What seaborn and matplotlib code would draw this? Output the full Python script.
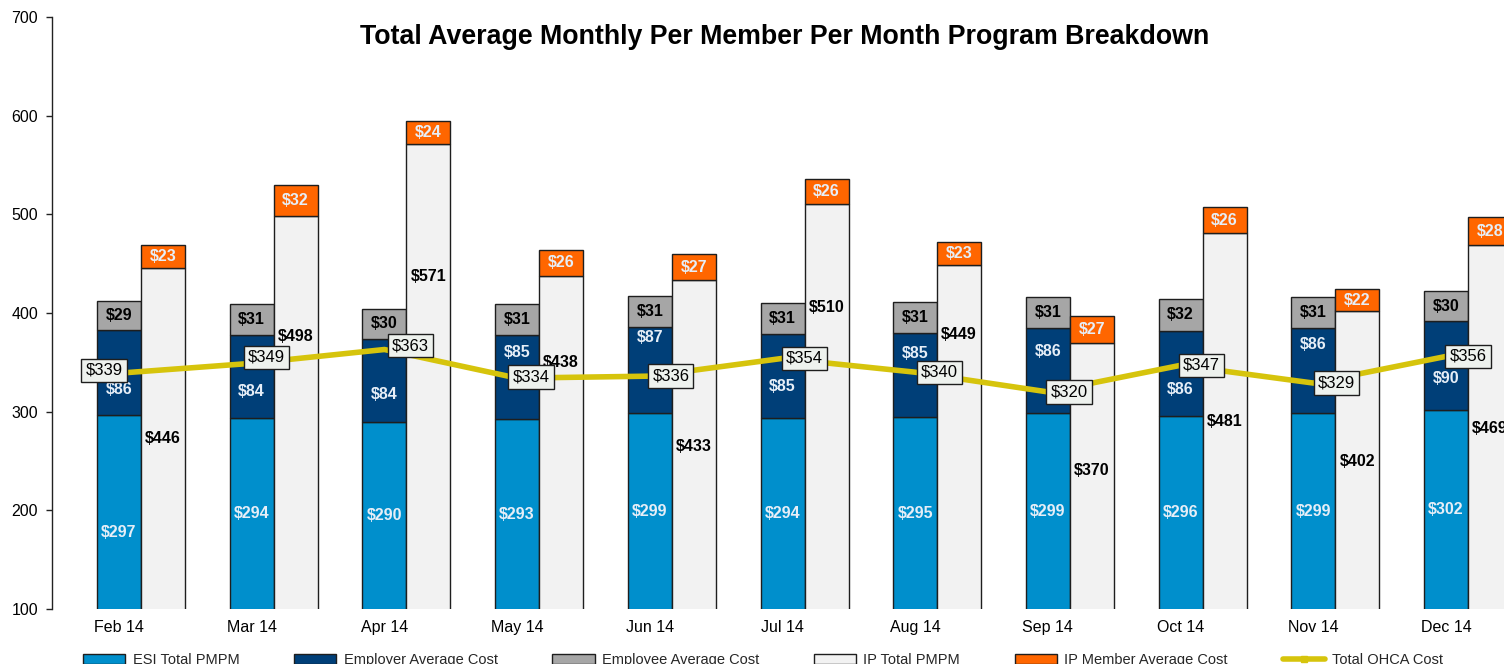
import numpy as np
import pandas as pd
import matplotlib
matplotlib.use("Agg")
import matplotlib.pyplot as plt
from matplotlib.patches import Patch
from matplotlib.lines import Line2D
import seaborn as sns

# ---------------- data ----------------
months = ["Feb 14", "Mar 14", "Apr 14", "May 14", "Jun 14", "Jul 14",
          "Aug 14", "Sep 14", "Oct 14", "Nov 14", "Dec 14"]
esi_total = [297, 294, 290, 293, 299, 294, 295, 299, 296, 299, 302]
employer_cost = [86, 84, 84, 85, 87, 85, 85, 86, 86, 86, 90]
employee_cost = [29, 31, 30, 31, 31, 31, 31, 31, 32, 31, 30]
ip_total = [446, 498, 571, 438, 433, 510, 449, 370, 481, 402, 469]
ip_member_cost = [23, 32, 24, 26, 27, 26, 23, 27, 26, 22, 28]
ohca_total = [339, 349, 363, 334, 336, 354, 340, 320, 347, 329, 356]

# label placement (layout only, data units / pixel offsets)
esi_label_y = [178, 197, 195, 196, 199, 197, 197, 199, 198, 199, 201]
employer_label_y = [322, 320, 317, 360, 375, 326, 359, 361, 322, 368, 334]
ip_label_y = [273, 376, 437, 350, 265, 406, 378, 240, 290, 250, 283]
ohca_label_dx = [-15, 15, 26, 14, 21, 22, 24, 21, 21, 23, 22]
ohca_label_dy = [3, 6, 4, 1, 0, 0, 0, 0, 0, 0, 0]

# ---------------- style ----------------
sns.set_theme(style="white")
plt.rcParams["font.family"] = ["Liberation Sans", "DejaVu Sans"]

c_esi = "#008FCC"
c_employer = "#003F78"
c_employee = "#A6A6A6"
c_ip = "#F2F2F2"
c_member = "#FF6600"
c_line = "#D6C40C"
edge = "#1E1E1E"
light_txt = "#E6EEF7"

fig = plt.figure(figsize=(15.04, 6.64), dpi=100)
ax = fig.add_axes([52 / 1504, 1 - 609 / 664, 1 - 52 / 1504, (609 - 17) / 664])

n = len(months)
x = np.arange(n, dtype=float)
w = 0.3316

esi = np.array(esi_total)
emp = np.array(employer_cost)
ee = np.array(employee_cost)
ipt = np.array(ip_total)
ipm = np.array(ip_member_cost)

bar_kw = dict(width=w, edgecolor=edge, linewidth=1.0, zorder=2)
ax.bar(x, esi, color=c_esi, **bar_kw)
ax.bar(x, emp, bottom=esi, color=c_employer, **bar_kw)
ax.bar(x, ee, bottom=esi + emp, color=c_employee, **bar_kw)
ax.bar(x + w, ipt, color=c_ip, **bar_kw)
ax.bar(x + w, ipm, bottom=ipt, color=c_member, **bar_kw)

df_line = pd.DataFrame({"x": x, "ohca": ohca_total})
sns.lineplot(data=df_line, x="x", y="ohca", color=c_line, linewidth=4.0,
             ax=ax, legend=False, zorder=4)

# ---------------- labels ----------------
fs = 11.5
for i in range(n):
    ax.text(x[i], esi_label_y[i], f"${esi[i]}", ha="center", va="center",
            color=light_txt, fontsize=fs, fontweight="bold", zorder=5)
    ax.text(x[i], employer_label_y[i], f"${emp[i]}", ha="center", va="center",
            color=light_txt, fontsize=fs, fontweight="bold", zorder=5)
    ax.text(x[i], esi[i] + emp[i] + ee[i] / 2, f"${ee[i]}", ha="center",
            va="center", color="black", fontsize=fs, fontweight="bold", zorder=5)
    ax.text(x[i] + w, ip_label_y[i], f"${ipt[i]}", ha="center", va="center",
            color="black", fontsize=fs, fontweight="bold", zorder=5)
    ax.text(x[i] + w, ipt[i] + ipm[i] / 2, f"${ipm[i]}", ha="center",
            va="center", color=light_txt, fontsize=fs, fontweight="bold", zorder=5)
    ax.annotate(f"${ohca_total[i]}", xy=(x[i], ohca_total[i]),
                xytext=(ohca_label_dx[i] * 0.72, ohca_label_dy[i] * 0.72),
                textcoords="offset points", ha="center", va="center",
                fontsize=fs + 0.5, color="black", zorder=6,
                bbox=dict(boxstyle="square,pad=0.25", facecolor="#EEF2EE",
                          edgecolor=edge, linewidth=1.0))

# ---------------- axes ----------------
ax.set_xlim(-0.505, 10.437)
ax.set_ylim(100, 700)
ax.set_yticks(np.arange(100, 701, 100))
ax.set_xticks(x)
ax.set_xticklabels(months)
ax.set_xlabel("")
ax.set_ylabel("")
for s in ["top", "right", "bottom"]:
    ax.spines[s].set_visible(False)
ax.spines["left"].set_color("#222222")
ax.spines["left"].set_linewidth(1.0)
ax.tick_params(axis="y", left=True, length=4, width=1, color="#222222",
               direction="out", pad=6, labelsize=11.5, labelcolor="black")
ax.tick_params(axis="x", bottom=False, length=0, pad=8, labelsize=11.5,
               labelcolor="black")
ax.grid(False)
ax.set_facecolor("white")

fig.text(785 / 1504, 1 - 37 / 664,
         "Total Average Monthly Per Member Per Month Program Breakdown",
         ha="center", va="center", fontsize=19.3, fontweight="bold",
         color="black")

handles = [
    Patch(facecolor=c_esi, edgecolor=edge, label="ESI Total PMPM"),
    Patch(facecolor=c_employer, edgecolor=edge, label="Employer Average Cost"),
    Patch(facecolor=c_employee, edgecolor=edge, label="Employee Average Cost"),
    Patch(facecolor=c_ip, edgecolor=edge, label="IP Total PMPM"),
    Patch(facecolor=c_member, edgecolor=edge, label="IP Member Average Cost"),
    Line2D([0], [0], color=c_line, lw=4, marker="s", markersize=4,
           label="Total OHCA Cost"),
]
fig.legend(handles=handles, loc="center left",
           bbox_to_anchor=(83 / 1504, 1 - 660 / 664), ncol=6, frameon=False,
           handlelength=2.9, handleheight=0.72, handletextpad=0.5,
           columnspacing=3.75, borderpad=0, borderaxespad=0, fontsize=10.5)

fig.savefig("out.png", dpi=100, facecolor="white")
